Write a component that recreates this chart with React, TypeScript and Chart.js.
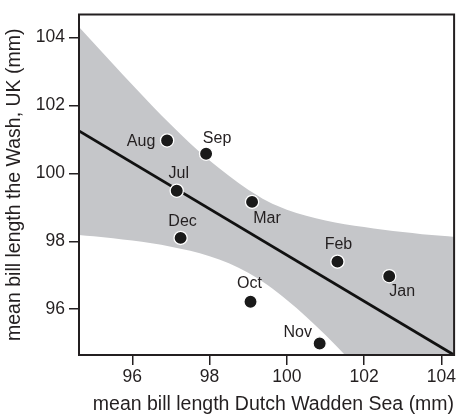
import React, { useEffect, useRef } from 'react';
import { Chart, registerables } from 'chart.js';

Chart.register(...registerables);

const months = ['Aug', 'Sep', 'Jul', 'Mar', 'Dec', 'Feb', 'Jan', 'Nov', 'Oct'];
const dutchX = [96.9, 97.91, 97.15, 99.1, 97.25, 101.31, 102.65, 100.85, 99.06];
const washY = [100.97, 100.58, 99.49, 99.16, 98.1, 97.4, 96.97, 94.99, 96.22];

const fitX = [94.62, 104.33];
const fitY = [101.25, 94.65];

const bandX = [94.6, 95, 95.5, 96, 96.5, 97, 97.5, 98, 98.5, 99, 99.5, 100, 100.5, 101, 101.5, 102, 102.5, 103, 103.5, 104, 104.4];
const bandUpper = [104.34, 103.84, 103.22, 102.61, 102.01, 101.43, 100.88, 100.38, 99.93, 99.52, 99.18, 98.93, 98.75, 98.61, 98.5, 98.42, 98.34, 98.27, 98.21, 98.16, 98.12];
const bandLower = [98.19, 98.15, 98.09, 98.02, 97.94, 97.84, 97.72, 97.56, 97.35, 97.07, 96.71, 96.27, 95.78, 95.24, 94.66, 94.07, 93.47, 92.85, 92.23, 91.6, 91.1];

const xTicks = [96, 98, 100, 102, 104];
const yTicks = [96, 98, 100, 102, 104];

const FONT = "'Liberation Sans', Arial, Helvetica, sans-serif";
const INK = '#231f20';

const labelOffsets: Record<string, [number, number]> = {
  Aug: [-26, 1],
  Sep: [11, -15],
  Jul: [2, -17],
  Mar: [15, 17],
  Dec: [2, -16],
  Feb: [1, -17],
  Jan: [13, 15],
  Nov: [-22, -11],
  Oct: [-1, -18],
};

const framePlugin = {
  id: 'frame',
  afterDatasetsDraw(chart: any) {
    const { ctx, chartArea } = chart;
    ctx.save();
    ctx.strokeStyle = INK;
    ctx.lineWidth = 2;
    ctx.strokeRect(chartArea.left, chartArea.top, chartArea.right - chartArea.left, chartArea.bottom - chartArea.top);
    ctx.restore();
  },
};

const labelPlugin = {
  id: 'pointLabels',
  afterDatasetsDraw(chart: any) {
    const { ctx } = chart;
    const meta = chart.getDatasetMeta(0);
    ctx.save();
    ctx.font = `16px ${FONT}`;
    ctx.fillStyle = INK;
    ctx.textAlign = 'center';
    ctx.textBaseline = 'middle';
    meta.data.forEach((el: any, i: number) => {
      const name = months[i];
      const off = labelOffsets[name] || [0, -16];
      ctx.fillText(name, el.x + off[0], el.y + off[1]);
    });
    ctx.restore();
  },
};

export default function App() {
  const ref = useRef<HTMLCanvasElement | null>(null);

  useEffect(() => {
    if (!ref.current) return;
    const chart = new Chart(ref.current, {
      type: 'scatter',
      data: {
        datasets: [
          {
            type: 'scatter',
            data: dutchX.map((x, i) => ({ x, y: washY[i] })),
            backgroundColor: '#1a1a1a',
            borderColor: '#ffffff',
            borderWidth: 1.3,
            pointRadius: 6.6,
            clip: 10,
          } as any,
          {
            type: 'line',
            data: fitX.map((x, i) => ({ x, y: fitY[i] })),
            borderColor: '#111111',
            borderWidth: 2.8,
            pointRadius: 0,
            fill: false,
            clip: 0,
          } as any,
          {
            type: 'line',
            data: bandX.map((x, i) => ({ x, y: bandUpper[i] })),
            borderWidth: 0,
            borderColor: 'rgba(0,0,0,0)',
            backgroundColor: '#c5c6c9',
            pointRadius: 0,
            fill: '+1',
            cubicInterpolationMode: 'monotone',
            clip: 0,
          } as any,
          {
            type: 'line',
            data: bandX.map((x, i) => ({ x, y: bandLower[i] })),
            borderWidth: 0,
            borderColor: 'rgba(0,0,0,0)',
            pointRadius: 0,
            fill: false,
            cubicInterpolationMode: 'monotone',
            clip: 0,
          } as any,
        ],
      },
      options: {
        animation: false,
        responsive: false,
        layout: { padding: { top: 8, right: 4, left: 0, bottom: 0 } },
        plugins: {
          legend: { display: false },
          tooltip: { enabled: false },
        },
        scales: {
          x: {
            type: 'linear',
            min: 94.62,
            max: 104.33,
            afterBuildTicks: (s: any) => {
              s.ticks = xTicks.map((v) => ({ value: v }));
            },
            afterFit: (s: any) => {
              s.height = 64;
            },
            grid: { drawOnChartArea: false, drawTicks: true, tickLength: 10, color: INK, lineWidth: 1.5 },
            border: { display: false },
            ticks: { font: { size: 17.5, family: FONT }, color: INK, padding: 2, maxRotation: 0 },
            title: {
              display: true,
              align: 'end',
              text: 'mean bill length Dutch Wadden Sea (mm)',
              font: { size: 19.5, family: FONT, lineHeight: 1.2 },
              color: INK,
              padding: { top: 0, bottom: 3 },
            },
          },
          y: {
            type: 'linear',
            min: 94.65,
            max: 104.68,
            afterBuildTicks: (s: any) => {
              s.ticks = yTicks.map((v) => ({ value: v }));
            },
            afterFit: (s: any) => {
              s.width = 79;
            },
            grid: { drawOnChartArea: false, drawTicks: true, tickLength: 10, color: INK, lineWidth: 1.5 },
            border: { display: false },
            ticks: { font: { size: 17.5, family: FONT }, color: INK, padding: 4 },
            title: {
              display: true,
              text: 'mean bill length the Wash, UK (mm)',
              font: { size: 19.5, family: FONT, lineHeight: 1.2 },
              color: INK,
              padding: { top: 3, bottom: 0 },
            },
          },
        },
      } as any,
      plugins: [framePlugin, labelPlugin],
    });
    return () => chart.destroy();
  }, []);

  return (
    <div style={{ position: 'absolute', left: 0, top: 0, width: 462, height: 419 }}>
      <canvas ref={ref} width={462} height={419} style={{ display: 'block' }} />
    </div>
  );
}
